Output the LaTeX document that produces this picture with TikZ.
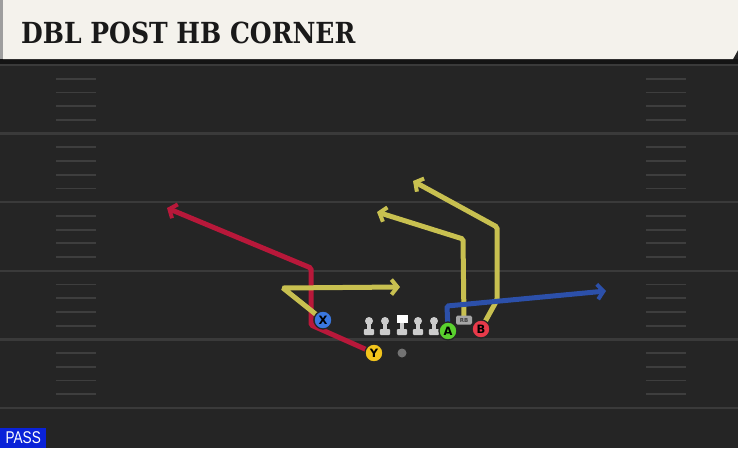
\documentclass[tikz,border=0pt]{standalone}
\usepackage{fontspec}
\usetikzlibrary{arrows.meta,positioning}
\newfontfamily\titlefont{DejaVu Serif Condensed}
\newfontfamily\tagfont{Liberation Sans}
\newfontfamily\playerfont{DejaVu Sans}
\definecolor{fieldbg}{RGB}{37,37,37}
\definecolor{fieldline}{RGB}{58,58,58}
\definecolor{hashline}{RGB}{62,62,62}
\definecolor{headerbg}{RGB}{244,242,236}
\definecolor{routered}{RGB}{184,24,58}
\definecolor{routeyel}{RGB}{200,192,80}
\definecolor{routeblue}{RGB}{44,80,170}
\definecolor{xblue}{RGB}{58,120,224}
\definecolor{yyellow}{RGB}{242,196,28}
\definecolor{agreen}{RGB}{90,209,46}
\definecolor{bred}{RGB}{232,58,74}
\definecolor{linegrey}{RGB}{205,205,205}
\definecolor{passblue}{RGB}{10,34,216}
\pgfdeclarelayer{field}
\pgfdeclarelayer{routes}
\pgfsetlayers{field,routes,main}

\begin{document}
\begin{tikzpicture}[x=1pt,y=-1pt,
    player/.style={circle, draw=black!85, line width=1.3pt, minimum size=18pt,
        inner sep=0pt, font=\playerfont\bfseries\fontsize{11.5}{11.5}\selectfont},
    route/.style={line width=5pt, rounded corners=1.5pt,
        -{Straight Barb[length=6pt 0,width=15pt 0,line width=4pt]}},
    lineman/.pic={
        \fill[linegrey] (0,0) circle (4);
        \fill[linegrey] (-2.2,0) rectangle (2.2,9);
        \fill[linegrey, rounded corners=1pt] (-5.2,8) rectangle (5.2,14);},
    centerman/.pic={
        \fill[white] (-5.5,-6) rectangle (5.5,2);
        \fill[linegrey] (-2.2,2) rectangle (2.2,9);
        \fill[linegrey, rounded corners=1pt] (-5.2,8) rectangle (5.2,14);}]
    \useasboundingbox (0,0) rectangle (738,448);

    \begin{pgfonlayer}{field}
        % Field
        \fill[fieldbg] (0,0) rectangle (738,448);
        \fill[black!92] (0,59) rectangle (738,64);
        \foreach \k in {0,...,5}
            \draw[fieldline, line width=2.5pt] (0,65+68.6*\k) -- (738,65+68.6*\k);
        \foreach \k in {0,...,4}
            \foreach \j in {1,...,4} {
                \draw[hashline, line width=1.8pt] (56,65+68.6*\k+13.7*\j) -- (96,65+68.6*\k+13.7*\j);
                \draw[hashline, line width=1.8pt] (646,65+68.6*\k+13.7*\j) -- (686,65+68.6*\k+13.7*\j);
            }

        % Header
        \fill[headerbg] (3,0) -- (738,0) -- (738,50) -- (733,59) -- (3,59) -- cycle;
        \fill[black!38] (0,0) rectangle (3,59);
        \node[anchor=base west, inner sep=0pt, text=black!90,
              font=\titlefont\bfseries\fontsize{29}{29}\selectfont] (title) at (21,43)
              {\scalebox{0.96}[1]{DBL POST HB CORNER}};

        % Play type
        \node[fill=passblue, text=white, anchor=south west, inner sep=0pt,
              minimum width=46pt, minimum height=20pt,
              font=\tagfont\fontsize{17}{17}\selectfont] (pass) at (0,448) {\scalebox{0.8}[1]{PASS}};
    \end{pgfonlayer}

    % Line
    \foreach \lx in {369,385,418,434}
        \pic at (\lx,321) {lineman};
    \pic at (402,321) {centerman};
    \fill[black!55] (402,353) circle (4.5);

    % Players
    \node[player, fill=xblue] (X) at (323,320) {X};
    \node[player, fill=yyellow] (Y) at (374,353) {Y};
    \node[player, fill=agreen] (A) at (448,331) {A};
    \node[player, fill=bred] (B) at (481,329) {B};
    \node[fill=black!35, rounded corners=1.5pt, inner sep=0pt, minimum width=16pt,
          minimum height=9pt, text=black!75,
          font=\playerfont\bfseries\fontsize{5.5}{5.5}\selectfont] (RB) at (464,320) {RB};

    % Routes
    \coordinate (ytip) at (167,208);
    \coordinate (xtip) at (400,287);
    \coordinate (rbtip) at (377,212);
    \coordinate (btip) at (413,181);
    \coordinate (atip) at (606,291);
    \begin{pgfonlayer}{routes}
        \draw[route, routered] (Y.center) -- (311,325) -- (311,268) -- (ytip);
        \draw[route, routeyel] (X.center) -- (283,288) -- (xtip);
        \draw[route, routeyel] (RB.center) -- (463,239) -- (rbtip);
        \draw[route, routeyel] (B.center) -- (497,300) -- (497,227) -- (btip);
        \draw[route, routeblue] (A.center) -- (447,306) -- (atip);
    \end{pgfonlayer}
\end{tikzpicture}
\end{document}
